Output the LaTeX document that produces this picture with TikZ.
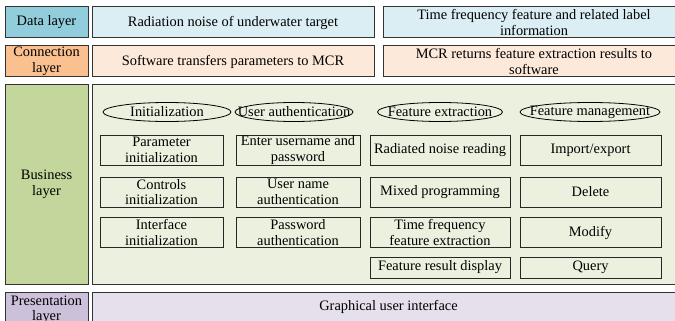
\documentclass[tikz,border=0pt]{standalone}
\usepackage{fontspec}
\setmainfont{Liberation Serif}

\definecolor{datalab}{RGB}{146,205,220}
\definecolor{datafill}{RGB}{218,238,243}
\definecolor{connlab}{RGB}{250,192,144}
\definecolor{connfill}{RGB}{253,233,217}
\definecolor{buslab}{RGB}{195,214,155}
\definecolor{busfill}{RGB}{235,241,222}
\definecolor{preslab}{RGB}{204,192,218}
\definecolor{presfill}{RGB}{229,224,236}

\begin{document}
\begin{tikzpicture}[x=1pt,y=-1pt,
        every node/.style={font=\fontsize{14.4}{15.5}\selectfont, align=center, inner sep=0pt},
        layer/.style={draw=black!80, line width=1pt, rectangle},
        func/.style={draw=black!85, line width=0.9pt, rectangle},
        module/.style={draw=black, line width=0.8pt}]
        \useasboundingbox (0,0) rectangle (675,321);
        \clip (0,0) rectangle (675,321);

        % 数据层
        \node[layer, fill=datalab, minimum width=83pt, minimum height=31pt] (datalayer) at (46.5,22.5) {Data layer};
        \node[layer, fill=datafill, minimum width=282pt, minimum height=31pt] (noise) at (233,22.5) {Radiation noise of underwater target};
        \node[layer, fill=datafill, minimum width=302pt, minimum height=31pt] (tflabel) at (534,22.5) {Time frequency feature and related label\\information};

        % 连接层
        \node[layer, fill=connlab, minimum width=83pt, minimum height=31pt] (connlayer) at (46.5,61.5) {Connection\\layer};
        \node[layer, fill=connfill, minimum width=282pt, minimum height=31pt] (tomcr) at (233,61.5) {Software transfers parameters to MCR};
        \node[layer, fill=connfill, minimum width=302pt, minimum height=31pt] (frommcr) at (534,61.5) {MCR returns feature extraction results to\\software};

        % 业务层
        \node[layer, fill=buslab, minimum width=83pt, minimum height=199pt] (buslayer) at (46.5,184.5) {Business\\layer};
        \node[layer, fill=busfill, minimum width=593pt, minimum height=199pt] (busbox) at (388.5,184.5) {};

        % 功能模块（椭圆）
        \draw[module] (167,112) node (init) {Initialization} ellipse [x radius=64, y radius=9.5];
        \draw[module] (294,112) node (auth) {User authentication} ellipse [x radius=59, y radius=9.5];
        \draw[module] (440,112) node (extract) {Feature extraction} ellipse [x radius=62.5, y radius=9.5];
        \draw[module] (590,112) node (manage) {Feature management} ellipse [x radius=70, y radius=9.5];

        % 初始化
        \node[func, minimum width=123pt, minimum height=30pt] (parinit) at (161.5,150) {Parameter\\initialization};
        \node[func, minimum width=123pt, minimum height=30pt] (ctrlinit) at (161.5,192) {Controls\\initialization};
        \node[func, minimum width=123pt, minimum height=30pt] (uiinit) at (161.5,232.5) {Interface\\initialization};

        % 用户认证
        \node[func, minimum width=124pt, minimum height=30pt] (enter) at (298,150) {Enter username and\\password};
        \node[func, minimum width=124pt, minimum height=30pt] (nameauth) at (298,192) {User name\\authentication};
        \node[func, minimum width=124pt, minimum height=30pt] (pwauth) at (298,232.5) {Password\\authentication};

        % 特征提取
        \node[func, minimum width=140pt, minimum height=30pt] (reading) at (440,150) {Radiated noise reading};
        \node[func, minimum width=140pt, minimum height=30pt] (mixed) at (440,192) {Mixed programming};
        \node[func, minimum width=140pt, minimum height=30pt] (tfextract) at (440,232.5) {Time frequency\\feature extraction};
        \node[func, minimum width=140pt, minimum height=21pt] (display) at (440,267.5) {Feature result display};

        % 特征管理
        \node[func, minimum width=141pt, minimum height=30pt] (impexp) at (590.5,150) {Import/export};
        \node[func, minimum width=141pt, minimum height=30pt] (delete) at (590.5,192) {Delete};
        \node[func, minimum width=141pt, minimum height=30pt] (modify) at (590.5,232.5) {Modify};
        \node[func, minimum width=141pt, minimum height=21pt] (query) at (590.5,267.5) {Query};

        % 表示层
        \node[layer, fill=preslab, minimum width=83pt, minimum height=36pt] (preslayer) at (46.5,310) {Presentation\\layer};
        \node[layer, fill=presfill, minimum width=593pt, minimum height=30pt] (gui) at (388.5,307) {Graphical user interface};
    \end{tikzpicture}
\end{document}
